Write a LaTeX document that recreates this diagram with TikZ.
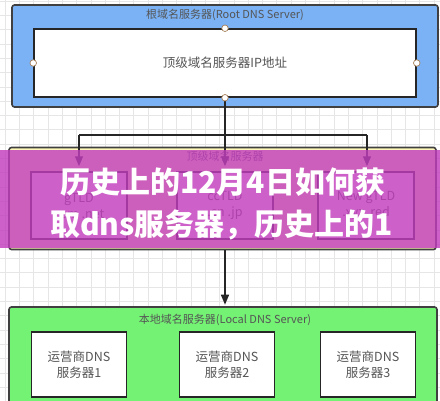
\documentclass[tikz,border=0pt]{standalone}
\usepackage{fontspec}
\setmainfont{Noto Sans CJK SC}
\newfontfamily\cjkb{Noto Sans CJK SC}
\usetikzlibrary{arrows.meta}
\definecolor{rootblue}{HTML}{7AB2F5}
\definecolor{tldyellow}{HTML}{FFF8B8}
\definecolor{localgreen}{HTML}{74F274}
\definecolor{txtgray}{HTML}{555555}
\definecolor{gridgray}{HTML}{E6E6E6}
\definecolor{bandmag}{RGB}{194,62,190}
\tikzset{
  outerbox/.style={draw=black!75, line width=1.6pt, rounded corners=2.5pt, inner sep=0pt},
  innerbox/.style={draw=black!85, fill=white, line width=1.5pt, inner sep=0pt, text=txtgray, align=center, font=\fontsize{12.5}{16}\selectfont},
  titletext/.style={text=txtgray, font=\fontsize{11}{12}\selectfont, inner sep=0pt},
  port/.style={circle, draw=brown!60!gray, fill=white, line width=0.7pt, minimum size=6.5pt, inner sep=0pt},
  conn/.style={draw=black!85, line width=1.4pt},
  arr/.style={conn, -{Triangle[length=10pt,width=8pt]}},
  bandtext/.style={text=white, font=\cjkb\bfseries\fontsize{30}{42}\selectfont, inner sep=0pt}
}
\begin{document}
\begin{tikzpicture}[x=1pt,y=-1pt]
\useasboundingbox (0,0) rectangle (440,400);
\clip (0,0) rectangle (440,400);
\fill[white] (0,0) rectangle (440,400);
\draw[gridgray, line width=0.6pt, xstep=14.3pt, ystep=14.3pt, shift={(5pt,-1pt)}] (-5,-10) grid (450,410);
% root
\node[outerbox, fill=rootblue, minimum width=426pt, minimum height=102pt] (root) at (225,56) {};
\node[titletext] (roottitle) at (225,15) {根域名服务器(Root DNS Server)};
\node[innerbox, minimum width=382pt, minimum height=68pt] (rootin) at (225,63) {顶级域名服务器IP地址};
% TLD
\node[outerbox, fill=tldyellow, minimum width=427pt, minimum height=102pt] (tld) at (222.5,198.5) {};
\node[titletext] (tldtitle) at (225,156) {顶级域名服务器};
\node[innerbox, minimum width=96pt, minimum height=67pt] (t1) at (79,205.5) {gTLD\\com .net};
\node[innerbox, minimum width=96pt, minimum height=67pt] (t2) at (225,205.5) {ccTLD\\.cn .jp};
\node[innerbox, minimum width=96pt, minimum height=67pt] (t3) at (366,205.5) {New gTLD\\.xyz .red};
% local
\node[outerbox, fill=localgreen, minimum width=428pt, minimum height=110pt] (local) at (223,362) {};
\node[titletext] (localtitle) at (225,320) {本地域名服务器(Local DNS Server)};
\node[innerbox, minimum width=95pt, minimum height=65pt] (l1) at (79,364.5) {运营商DNS\\服务器1};
\node[innerbox, minimum width=95pt, minimum height=65pt] (l2) at (227,364.5) {运营商DNS\\服务器2};
\node[innerbox, minimum width=95pt, minimum height=65pt] (l3) at (368,364.5) {运营商DNS\\服务器3};
% connectors
\coordinate (j) at (225,135);
\coordinate (jl) at (79,135);
\coordinate (jr) at (367,135);
\draw[conn] (rootin.south) -- (j);
\draw[conn] (jl) -- (jr);
\draw[arr, shorten >=5pt] (jl) -- (t1.north);
\draw[arr, shorten >=5pt] (j) -- (t2.north);
\draw[arr, shorten >=5pt] (jr) -- (t3.north -| jr);
\draw[arr, shorten >=1.5pt] (tld.south -| t2) -- (local.north -| t2);
% ports
\node[port] (p1) at (rootin.north) {};
\node[port] (p2) at (rootin.south) {};
\node[port] (p3) at (rootin.west) {};
\node[port] (p4) at (rootin.east) {};
% overlay band
\fill[bandmag, opacity=0.82] (0,150) rectangle (440,248);
\node[bandtext, anchor=base west] (band1) at (60,193) {历史上的12月4日如何获};
\node[bandtext, anchor=base west] (band2) at (50,235) {取dns服务器，历史上的1};
\end{tikzpicture}
\end{document}
